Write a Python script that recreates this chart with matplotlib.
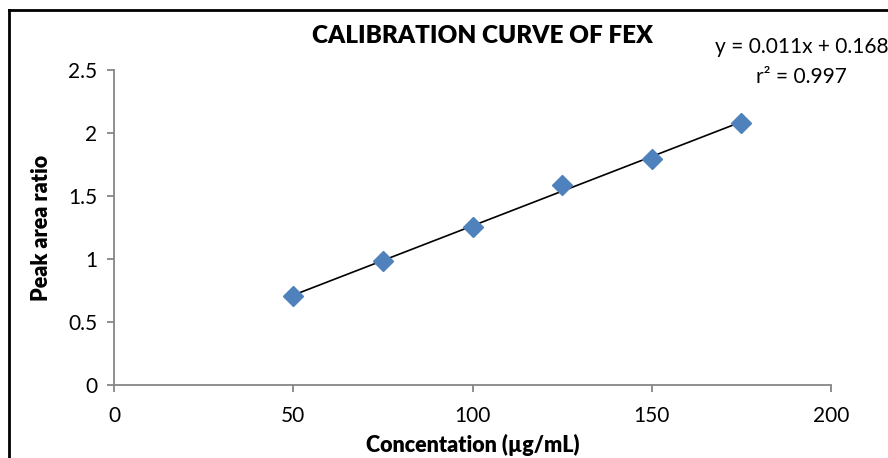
import numpy as np
import matplotlib.pyplot as plt
from matplotlib.lines import Line2D

# Calibration data
conc = [50, 75, 100, 125, 150, 175]
ratio = [0.706, 0.984, 1.254, 1.587, 1.794, 2.079]
x_ticks = [0, 50, 100, 150, 200]
y_ticks = [0, 0.5, 1, 1.5, 2, 2.5]
y_tick_labels = ["0", "0.5", "1", "1.5", "2", "2.5"]

plt.rcParams['font.family'] = ['Lato', 'DejaVu Sans']
axis_grey = '#868686'

fig = plt.figure(figsize=(8.88, 4.58), dpi=100)
ax = fig.add_axes([0.1284, 0.1594, 0.8074, 0.6878])

# linear trendline
slope, intercept = np.polyfit(conc, ratio, 1)
xs = np.array([conc[0], conc[-1]])
ax.plot(xs, slope * xs + intercept, color='black', lw=1.2, zorder=2)
ax.plot(conc, ratio, linestyle='none', marker='D', ms=10.5,
        color='#4F81BD', markeredgecolor='#4F81BD', zorder=3, clip_on=False)

ax.set_xlim(0, 200)
ax.set_ylim(0, 2.5)
ax.set_xticks(x_ticks)
ax.set_yticks(y_ticks)
ax.set_yticklabels(y_tick_labels)
for s in ['top', 'right']:
    ax.spines[s].set_visible(False)
for s in ['left', 'bottom']:
    ax.spines[s].set_color(axis_grey)
    ax.spines[s].set_linewidth(1.3)
ax.tick_params(direction='out', length=5, width=1.3, color=axis_grey,
               labelsize=15, labelcolor='black', pad=7)
ax.tick_params(axis='x', pad=10)

ax.set_xlabel("Concentation (µg/mL)", fontsize=15.5, fontweight='heavy', labelpad=6)
ax.set_ylabel("Peak area ratio", fontsize=15.5, fontweight='heavy', labelpad=12)
fig.text(0.543, 0.922, "CALIBRATION CURVE OF FEX", ha='center', va='center',
         fontsize=17.5, fontweight='heavy')
fig.text(0.903, 0.897, "y = 0.011x + 0.168", ha='center', va='center', fontsize=15)
fig.text(0.903, 0.832, "r² = 0.997", ha='center', va='center', fontsize=15)

# chart frame (top and left edges visible)
fig.add_artist(Line2D([0.0101, 1.0], [0.978, 0.978], color='black', lw=2))
fig.add_artist(Line2D([0.0101, 0.0101], [0.0, 0.978], color='black', lw=2))

fig.savefig('out.png', dpi=100)
